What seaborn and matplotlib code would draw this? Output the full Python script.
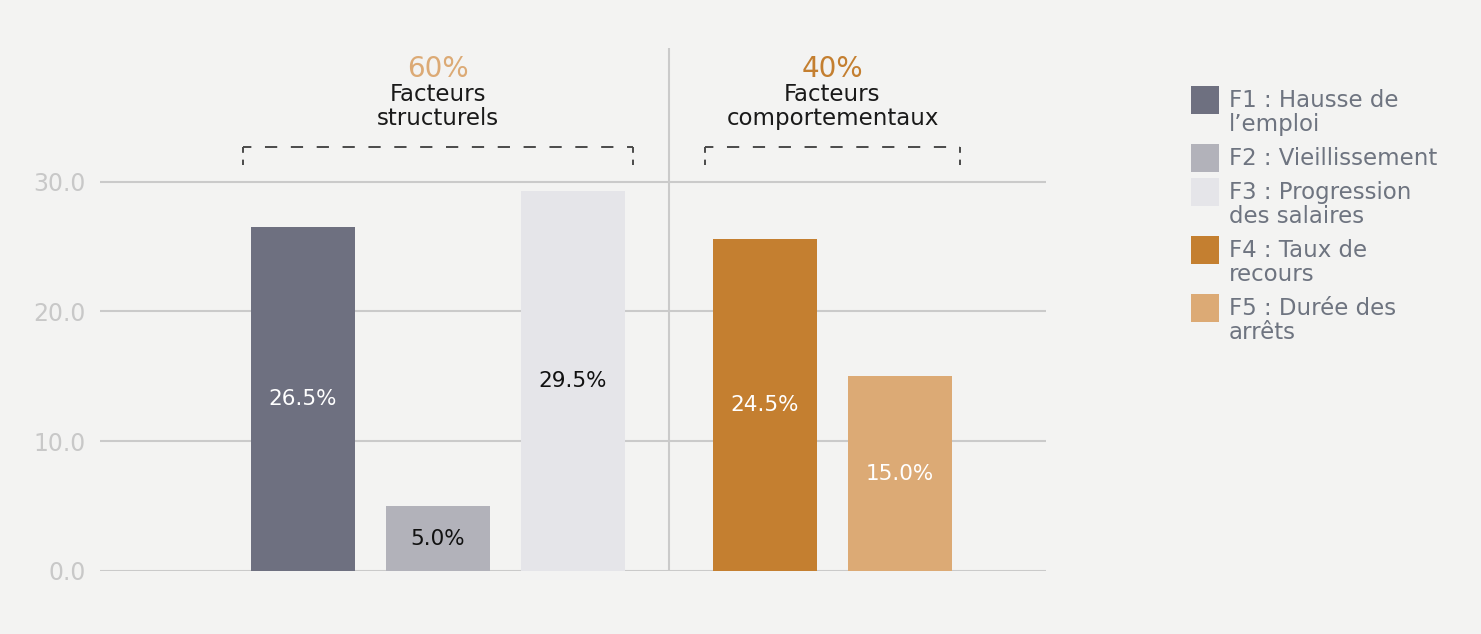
import matplotlib
matplotlib.use("Agg")
import matplotlib.pyplot as plt
import seaborn as sns
import pandas as pd
from matplotlib.patches import Rectangle

# ---- data ----
factors = ["F1", "F2", "F3", "F4", "F5"]
legend_labels = ["F1 : Hausse de\nl\u2019emploi", "F2 : Vieillissement",
                 "F3 : Progression\ndes salaires", "F4 : Taux de\nrecours",
                 "F5 : Dur\u00e9e des\narr\u00eats"]
values = [26.5, 5.0, 29.3, 25.6, 15.0]
value_labels = ["26.5%", "5.0%", "29.5%", "24.5%", "15.0%"]
groups = [0, 0, 0, 1, 1]
group_shares = ["60%", "40%"]
group_titles = ["Facteurs\nstructurels", "Facteurs\ncomportementaux"]
yticks = [0, 10, 20, 30]

# ---- style ----
colors = ["#6e7080", "#b2b2ba", "#e5e5e9", "#c47f30", "#dcaa75"]
label_colors = ["white", "#111111", "#111111", "white", "white"]
share_colors = ["#dcaa75", "#c47f30"]
bg = "#f3f3f2"
grid_c = "#cacaca"
gap = 0.42

sns.set_theme(style="white")
plt.rcParams["font.family"] = ["DejaVu Sans"]

xpos = [i + gap * g for i, g in enumerate(groups)]
df = pd.DataFrame({"x": xpos, "value": values, "factor": factors})

fig = plt.figure(figsize=(14.81, 6.34), dpi=100, facecolor=bg)
W, H = 1481, 634
ax = fig.add_axes([100 / W, 1 - 571 / H, (1046 - 100) / W, (571 - 48) / H])
ax.set_facecolor(bg)

sns.barplot(data=df, x="x", y="value", hue="factor", palette=colors,
            native_scale=True, dodge=False, width=0.77, legend=False,
            saturation=1, linewidth=0, edgecolor="none", ax=ax, zorder=3)

ax.set_xlim(-1.5, 5.5)
ax.set_ylim(0, 40.3)
ax.set_yticks(yticks)
ax.set_yticklabels([f"{t:.1f}" for t in yticks], color="#c8c8c8", fontsize=17)
ax.tick_params(axis="y", length=0, pad=10)
ax.set_xticks([])
ax.set_xlabel("")
ax.set_ylabel("")
for s in ax.spines.values():
    s.set_visible(False)
for t in yticks:
    ax.axhline(t, color=grid_c, lw=1.5, zorder=1)

# divider between groups
first_b = groups.index(1)
divider = (xpos[first_b - 1] + xpos[first_b]) / 2
ax.axvline(divider, color=grid_c, lw=1.5, zorder=1)

# bar labels
for x, v, lab, c in zip(xpos, values, value_labels, label_colors):
    ax.text(x, v / 2, lab, ha="center", va="center", color=c, fontsize=15.5, zorder=4)

# group headers and dashed brackets
def ypix(yp):
    return 40.3 * (571 - yp) / (571 - 48)

for g in range(len(group_shares)):
    gx = [x for x, gg in zip(xpos, groups) if gg == g]
    cx = (gx[0] + gx[-1]) / 2
    ax.text(cx, ypix(77), group_shares[g], ha="center", va="baseline",
            color=share_colors[g], fontsize=20)
    for k, line in enumerate(group_titles[g].split("\n")):
        ax.text(cx, ypix(101 + 24 * k), line, ha="center", va="baseline",
                color="#1a1a1a", fontsize=16.5)
    x0, x1 = gx[0] - 0.444, gx[-1] + 0.444
    ytop, ybot = ypix(147), ypix(165)
    ax.plot([x0, x1], [ytop, ytop], color="#4a4a4a", lw=1.4,
            ls=(2, (6.3, 7)), zorder=2, solid_capstyle="butt")
    for xe in (x0, x1):
        ax.plot([xe, xe], [ytop, ybot], color="#4a4a4a", lw=1.4,
                ls=(0, (3, 3.5)), zorder=2)

# legend (manual)
top = 86
for lab, c in zip(legend_labels, colors):
    fig.patches.append(Rectangle((1191 / W, 1 - (top + 28) / H), 28 / W, 28 / H,
                                 transform=fig.transFigure, facecolor=c,
                                 edgecolor="none"))
    for k, line in enumerate(lab.split("\n")):
        fig.text(1229 / W, 1 - (top + 21 + 24 * k) / H, line, ha="left",
                 va="baseline", color="#6e7480", fontsize=16.5)
    top += 34 + 24 * lab.count("\n")

fig.savefig("out.png", dpi=100, facecolor=bg)
